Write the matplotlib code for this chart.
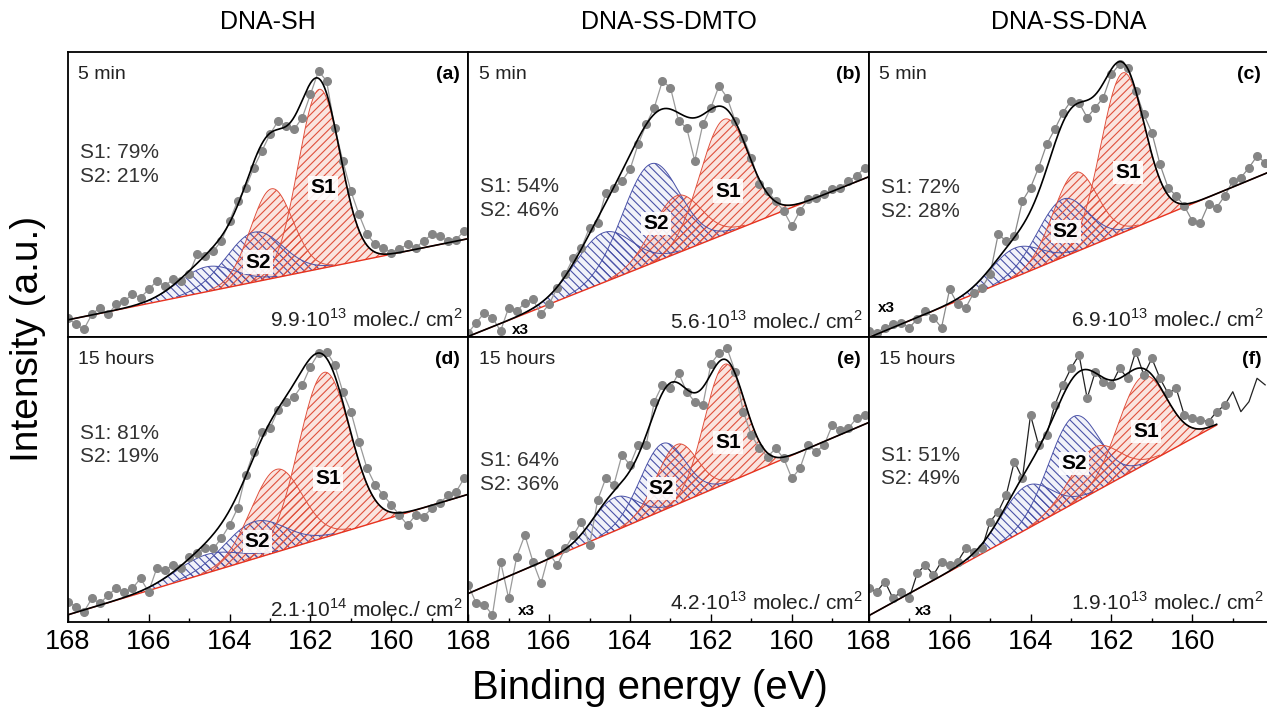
import numpy as np
import matplotlib
matplotlib.use('Agg')
import matplotlib.pyplot as plt
from matplotlib import font_manager

# fonts: the tick labels / titles in the figure look condensed
names = {f.name for f in font_manager.fontManager.ttflist}
narrow = 'Liberation Sans Narrow' if 'Liberation Sans Narrow' in names else None

plt.rcParams['font.family'] = ['Liberation Sans', 'DejaVu Sans']
plt.rcParams['mathtext.fontset'] = 'custom'
plt.rcParams['mathtext.rm'] = 'Liberation Sans'
plt.rcParams['hatch.linewidth'] = 0.8

# measured binding energies (eV), same grid for every panel
energy = [168.0, 167.8, 167.6, 167.4, 167.2, 167.0, 166.8, 166.6, 166.4, 166.2,
          166.0, 165.8, 165.6, 165.4, 165.2, 165.0, 164.8, 164.6, 164.4, 164.2,
          164.0, 163.8, 163.6, 163.4, 163.2, 163.0, 162.8, 162.6, 162.4, 162.2,
          162.0, 161.8, 161.6, 161.4, 161.2, 161.0, 160.8, 160.6, 160.4, 160.2,
          160.0, 159.8, 159.6, 159.4, 159.2, 159.0, 158.8, 158.6, 158.4, 158.2]

# intensities (normalised to panel height)
int_a = [0.068, 0.044, 0.027, 0.080, 0.103, 0.080, 0.115, 0.126, 0.150, 0.138,
         0.167, 0.196, 0.179, 0.202, 0.196, 0.220, 0.290, 0.284, 0.302, 0.337,
         0.407, 0.477, 0.524, 0.594, 0.653, 0.711, 0.758, 0.740, 0.729, 0.770,
         0.851, 0.933, 0.898, 0.735, 0.618, 0.512, 0.430, 0.360, 0.325, 0.313,
         0.296, 0.308, 0.325, 0.313, 0.337, 0.360, 0.354, 0.337, 0.342, 0.372]
int_b = [0.015, 0.050, 0.085, 0.068, 0.021, 0.103, 0.091, 0.120, 0.132, 0.080,
         0.115, 0.173, 0.220, 0.278, 0.313, 0.384, 0.401, 0.506, 0.524, 0.547,
         0.588, 0.676, 0.746, 0.805, 0.898, 0.875, 0.758, 0.734, 0.618, 0.746,
         0.805, 0.881, 0.840, 0.758, 0.699, 0.629, 0.536, 0.512, 0.477, 0.442,
         0.389, 0.442, 0.483, 0.489, 0.500, 0.518, 0.524, 0.547, 0.565, 0.594]
int_c = [0.021, 0.015, 0.033, 0.044, 0.050, 0.033, 0.062, 0.091, 0.068, 0.033,
         0.167, 0.115, 0.103, 0.156, 0.173, 0.220, 0.360, 0.337, 0.354, 0.477,
         0.524, 0.594, 0.676, 0.729, 0.787, 0.828, 0.822, 0.770, 0.805, 0.840,
         0.922, 0.957, 0.945, 0.863, 0.781, 0.717, 0.606, 0.524, 0.495, 0.460,
         0.407, 0.401, 0.466, 0.454, 0.495, 0.547, 0.559, 0.594, 0.635, 0.612]
int_d = [0.071, 0.054, 0.036, 0.083, 0.065, 0.095, 0.118, 0.106, 0.118, 0.153,
         0.106, 0.188, 0.182, 0.200, 0.188, 0.229, 0.241, 0.258, 0.258, 0.294,
         0.340, 0.399, 0.516, 0.598, 0.668, 0.680, 0.744, 0.773, 0.791, 0.832,
         0.896, 0.943, 0.949, 0.902, 0.808, 0.738, 0.633, 0.539, 0.481, 0.446,
         0.411, 0.375, 0.340, 0.375, 0.370, 0.399, 0.416, 0.446, 0.457, 0.504]
int_e = [0.130, 0.065, 0.060, 0.025, 0.212, 0.083, 0.229, 0.305, 0.212, 0.136,
         0.241, 0.200, 0.258, 0.305, 0.352, 0.270, 0.428, 0.504, 0.481, 0.586,
         0.551, 0.621, 0.621, 0.773, 0.832, 0.820, 0.873, 0.808, 0.773, 0.761,
         0.906, 0.943, 0.960, 0.878, 0.738, 0.656, 0.609, 0.580, 0.609, 0.574,
         0.504, 0.539, 0.621, 0.598, 0.621, 0.691, 0.674, 0.680, 0.715, 0.726]
int_f = [0.118, 0.106, 0.142, 0.083, 0.106, 0.083, 0.171, 0.200, 0.165, 0.212,
         0.200, 0.212, 0.258, 0.247, 0.258, 0.352, 0.387, 0.446, 0.563, 0.504,
         0.726, 0.621, 0.656, 0.761, 0.832, 0.890, 0.937, 0.785, 0.878, 0.843,
         0.832, 0.890, 0.855, 0.949, 0.867, 0.925, 0.855, 0.802, 0.820, 0.726,
         0.715, 0.709, 0.703, 0.738, 0.761, 0.808, 0.738, 0.773, 0.855, 0.832]
intensities = [int_a, int_b, int_c, int_d, int_e, int_f]

# fit results (S 2p doublets + linear background)
bg_168 = [0.060, 0.002, -0.002, 0.025, 0.100, 0.022]
bg_158 = [0.345, 0.562, 0.579, 0.448, 0.700, 0.792]
s1_pos = [161.78, 161.67, 161.72, 161.66, 161.66, 161.24]
s1_amp = [0.630, 0.404, 0.560, 0.580, 0.420, 0.313]
s1_wid = [0.52, 0.60, 0.54, 0.63, 0.50, 0.60]
s2_pos = [163.39, 163.49, 163.21, 163.39, 163.20, 162.94]
s2_amp = [0.175, 0.350, 0.204, 0.130, 0.235, 0.305]
s2_wid = [0.70, 0.70, 0.62, 0.75, 0.55, 0.62]
so_split = 1.18
so_ratio = 0.5
fit_end = [158.1, 158.1, 158.1, 158.1, 158.1, 159.4]

columns = ['DNA-SH', 'DNA-SS-DMTO', 'DNA-SS-DNA']
times = ['5 min', '5 min', '5 min', '15 hours', '15 hours', '15 hours']
letters = ['(a)', '(b)', '(c)', '(d)', '(e)', '(f)']
s1_share = [79, 54, 72, 81, 64, 51]
s2_share = [21, 46, 28, 19, 36, 49]
cov_mant = ['9.9', '5.6', '6.9', '2.1', '4.2', '1.9']
cov_exp = [13, 13, 13, 14, 13, 13]

# layout helpers
s1_lab = [(161.69, 0.523), (161.57, 0.512), (161.58, 0.577), (161.57, 0.502), (161.57, 0.630), (161.14, 0.668)]
s2_lab = [(163.30, 0.263), (163.35, 0.398), (163.13, 0.370), (163.31, 0.282), (163.22, 0.467), (162.92, 0.557)]
share_y = [0.605, 0.486, 0.483, 0.621, 0.525, 0.544]
cov_y = [0.063, 0.055, 0.060, 0.045, 0.068, 0.068]
x3_pos = [None, (0.11, 0.025), (0.022, 0.10), None, (0.125, 0.04), (0.115, 0.04)]
n_marked = [50, 50, 50, 50, 50, 45]
data_line = ['#9a9a9a', '#9a9a9a', '#8a8a8a', '#9a9a9a', '#9a9a9a', '#222222']

red = '#e0503c'
blue = '#4a52a8'
red_face = '#f6c4b8'
blue_face = '#d9dbef'


def peak(x, pos, amp, wid):
    return amp * np.exp(-0.5 * ((x - pos) / wid) ** 2)


fig = plt.figure(figsize=(12.67, 7.17), dpi=100)
left, w, h = 67.7 / 1267, 400.5 / 1267, 285 / 717
bottoms = [0.53, 0.1325]

tick_font = dict(family=narrow, size=23) if narrow else dict(size=19.5)
title_font = dict(family=narrow, size=21) if narrow else dict(size=18)

for i in range(6):
    row, col = divmod(i, 3)
    ax = fig.add_axes([left + col * w, bottoms[row], w, h])
    e = np.array(energy)
    y = np.array(intensities[i])

    xs = np.linspace(168, fit_end[i], 600)
    bg = np.interp(xs, [158.1, 168], [bg_158[i], bg_168[i]])
    s1a = peak(xs, s1_pos[i], s1_amp[i], s1_wid[i])
    s1b = peak(xs, s1_pos[i] + so_split, s1_amp[i] * so_ratio, s1_wid[i])
    s2a = peak(xs, s2_pos[i], s2_amp[i], s2_wid[i])
    s2b = peak(xs, s2_pos[i] + so_split, s2_amp[i] * so_ratio, s2_wid[i])

    # light tint under the hatching
    ax.fill_between(xs, bg, bg + np.maximum(s2a, s2b), color=blue_face, alpha=0.35, lw=0, zorder=0.8)
    ax.fill_between(xs, bg, bg + np.maximum(s1a, s1b), color=red_face, alpha=0.45, lw=0, zorder=0.9)

    comps = [(s2a, blue, '\\\\\\\\'), (s2b, blue, '\\\\\\\\'),
             (s1a, red, '////'), (s1b, red, '////')]
    for comp, c, hatch in comps:
        ax.fill_between(xs, bg, bg + comp, facecolor='none', edgecolor=c,
                        hatch=hatch, linewidth=0, zorder=1)
        outline = np.where(comp > 0.004, bg + comp, np.nan)
        ax.plot(xs, outline, color=c, lw=0.7, zorder=1.5)
    total = bg + s1a + s1b + s2a + s2b
    ax.plot(xs, bg, color='#e8321e', lw=1.0, zorder=2)

    ax.plot(e, y, color=data_line[i], lw=0.9, zorder=2.4)
    ax.plot(e[:n_marked[i]], y[:n_marked[i]], 'o', color='#858585', ms=5.5,
            mec='#858585', zorder=2.5)
    ax.plot(xs, total, color='black', lw=1.2, zorder=3)

    ax.set_xlim(168, 158.1)
    ax.set_ylim(0, 1)
    ax.set_yticks([])
    ax.set_xticks([168, 166, 164, 162, 160])
    ax.set_xticks([167, 165, 163, 161, 159], minor=True)
    ax.tick_params(axis='x', which='major', direction='in', length=6, width=1.0, pad=5)
    ax.tick_params(axis='x', which='minor', direction='in', length=3, width=1.0)
    if row == 0:
        ax.tick_params(axis='x', which='both', labelbottom=False, length=0)
    else:
        for lab in ax.get_xticklabels():
            lab.set_fontproperties(font_manager.FontProperties(**tick_font))
    for sp in ax.spines.values():
        sp.set_linewidth(1.3)
        sp.set_color('black')

    ax.text(0.026, 0.92, times[i], transform=ax.transAxes, fontsize=14,
            va='center', ha='left', color='#222222')
    ax.text(0.98, 0.92, letters[i], transform=ax.transAxes, fontsize=14,
            va='center', ha='right', fontweight='bold')
    ax.text(0.03, share_y[i], 'S1: %d%%\nS2: %d%%' % (s1_share[i], s2_share[i]),
            transform=ax.transAxes, fontsize=15, va='center', ha='left',
            linespacing=1.3, color='#333333')
    ax.text(0.985, cov_y[i], cov_mant[i] + '\u00b710$^{%d}$ molec./ cm$^{2}$' % cov_exp[i],
            transform=ax.transAxes, fontsize=15, va='center', ha='right', color='#222222')
    box = dict(facecolor='white', edgecolor='none', pad=1.5, alpha=0.9)
    ax.text(s1_lab[i][0], s1_lab[i][1], 'S1', fontsize=15, fontweight='bold',
            ha='center', va='center', bbox=box, zorder=5)
    ax.text(s2_lab[i][0], s2_lab[i][1], 'S2', fontsize=15, fontweight='bold',
            ha='center', va='center', bbox=box, zorder=5)
    if x3_pos[i] is not None:
        ax.text(x3_pos[i][0], x3_pos[i][1], 'x3', transform=ax.transAxes,
                fontsize=11, fontweight='bold', ha='left', va='center')

for col, name in enumerate(columns):
    fig.text(left + (col + 0.5) * w, 0.969, name, ha='center', va='center', **title_font)

fig.text(0.022, 0.527, 'Intensity (a.u.)', rotation=90, ha='center', va='center', fontsize=28)
fig.text(0.513, 0.04, 'Binding energy (eV)', ha='center', va='center', fontsize=29)

fig.savefig('out.png', dpi=100)
